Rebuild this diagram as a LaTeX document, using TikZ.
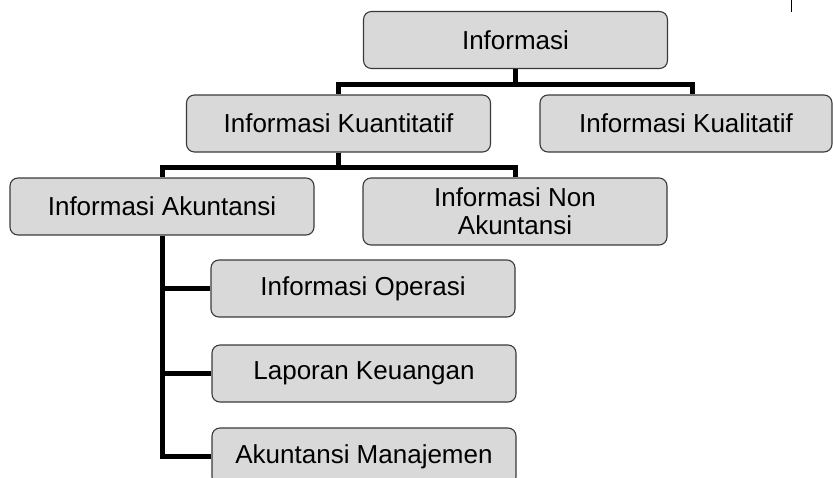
\documentclass[tikz,border=0pt]{standalone}
\usepackage{fontspec}
\setmainfont{Liberation Sans}
\usepackage{tikz}
\usetikzlibrary{positioning}
\definecolor{boxgray}{HTML}{D9D9D9}
\definecolor{boxline}{HTML}{3A3A3A}
\tikzset{
  infobox/.style={
    rectangle,
    rounded corners=8pt,
    fill=boxgray,
    draw=boxline, line width=1.1pt,
    minimum width=304pt,
    minimum height=57pt,
    inner sep=0pt,
    align=center,
    font=\fontsize{26}{28}\selectfont},
  tree/.style={draw, line width=5pt},
}

\begin{document}
\begin{tikzpicture}[x=1pt, y=-1pt]
     \useasboundingbox (0,0) rectangle (833,477);
     \node[infobox] (Informasi)    at (515.5,40)  {Informasi};
     \node[infobox] (Kuantitatif)  at (338.5,123.5) {Informasi Kuantitatif};
     \node[infobox, minimum width=292pt] (Kualitatif) at (686,123.5) {Informasi Kualitatif};
     \node[infobox] (Akuntansi)    at (162,206.5) {Informasi Akuntansi};
     \node[infobox, minimum height=67pt] (NonAkuntansi) at (515,211.5) {Informasi Non\\Akuntansi};
     \node[infobox] (Operasi)      at (363,288.5) {Informasi Operasi};
     \node[infobox] (Laporan)      at (364,373.5) {Laporan Keuangan};
     \node[infobox] (Manajemen)    at (364,456.5) {Akuntansi Manajemen};

     \draw[tree] (Informasi.south) -- ++(0,15) -| (Kuantitatif.north);
     \draw[tree] (Informasi.south) -- ++(0,15) -| ([xshift=6pt]Kualitatif.north);
     \draw[tree] (Kuantitatif.south) -- ++(0,15) -| (Akuntansi.north);
     \draw[tree] (Kuantitatif.south) -- ++(0,15) -| (NonAkuntansi.north);
     \draw[tree] (Akuntansi.south) |- (Operasi.west);
     \draw[tree] (Akuntansi.south) |- (Laporan.west);
     \draw[tree] (Akuntansi.south) |- (Manajemen.west);

     \draw[line width=1pt] (791,0) -- (791,12);
\end{tikzpicture}
\end{document}
